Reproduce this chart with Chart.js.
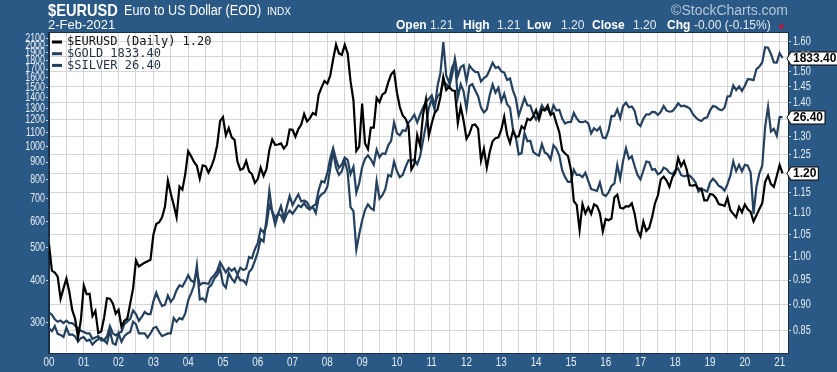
<!DOCTYPE html>
<html>
<head>
<meta charset="utf-8">
<script src="https://cdn.jsdelivr.net/npm/chart.js@4.4.1/dist/chart.umd.min.js"></script>
<style>
  html, body { margin: 0; padding: 0; background: #2b5985; overflow: hidden; }
  #wrap { width: 837px; height: 372px; }
</style>
</head>
<body>
<div id="wrap"><canvas id="eurChart" width="837" height="372"></canvas></div>
<script>
// monthly readings, first value = Jan 2000, last = 2-Feb-2021
const startYear = 2000;

const eurusd = [
  1.027, 0.970, 0.966, 0.957, 0.912, 0.933, 0.953, 0.926, 0.890, 0.873, 0.838, 0.871,
  0.939, 0.921, 0.922, 0.878, 0.888, 0.846, 0.849, 0.875, 0.913, 0.912, 0.903, 0.883,
  0.890, 0.858, 0.869, 0.873, 0.902, 0.933, 0.992, 0.979, 0.983, 0.987, 0.990, 0.993,
  1.049, 1.074, 1.078, 1.090, 1.116, 1.181, 1.148, 1.120, 1.090, 1.166, 1.158, 1.198,
  1.259, 1.246, 1.230, 1.220, 1.186, 1.221, 1.219, 1.202, 1.218, 1.240, 1.276, 1.345,
  1.357, 1.304, 1.325, 1.298, 1.291, 1.231, 1.209, 1.213, 1.233, 1.205, 1.198, 1.175,
  1.185, 1.215, 1.193, 1.211, 1.263, 1.292, 1.277, 1.278, 1.281, 1.267, 1.277, 1.321,
  1.320, 1.300, 1.322, 1.335, 1.366, 1.344, 1.354, 1.369, 1.364, 1.425, 1.448, 1.468,
  1.460, 1.486, 1.540, 1.590, 1.560, 1.555, 1.590, 1.560, 1.468, 1.408, 1.260, 1.272,
  1.398, 1.281, 1.265, 1.326, 1.326, 1.415, 1.402, 1.426, 1.432, 1.464, 1.490, 1.500,
  1.432, 1.387, 1.362, 1.352, 1.330, 1.210, 1.224, 1.305, 1.275, 1.364, 1.410, 1.303,
  1.338, 1.369, 1.380, 1.418, 1.481, 1.440, 1.450, 1.439, 1.437, 1.339, 1.388, 1.346,
  1.294, 1.308, 1.333, 1.335, 1.323, 1.234, 1.266, 1.215, 1.257, 1.287, 1.296, 1.298,
  1.320, 1.358, 1.306, 1.282, 1.316, 1.299, 1.301, 1.330, 1.322, 1.352, 1.348, 1.359,
  1.378, 1.350, 1.380, 1.377, 1.392, 1.364, 1.369, 1.339, 1.313, 1.262, 1.253, 1.246,
  1.210, 1.129, 1.120, 1.060, 1.122, 1.099, 1.114, 1.098, 1.121, 1.117, 1.100, 1.057,
  1.086, 1.083, 1.087, 1.138, 1.145, 1.113, 1.111, 1.117, 1.116, 1.124, 1.098, 1.059,
  1.045, 1.080, 1.058, 1.065, 1.090, 1.124, 1.143, 1.184, 1.191, 1.181, 1.165, 1.190,
  1.201, 1.241, 1.219, 1.232, 1.208, 1.169, 1.168, 1.170, 1.160, 1.161, 1.131, 1.131,
  1.147, 1.145, 1.137, 1.122, 1.120, 1.117, 1.137, 1.107, 1.098, 1.090, 1.115, 1.102,
  1.121, 1.109, 1.103, 1.080, 1.095, 1.110, 1.124, 1.178, 1.194, 1.172, 1.165, 1.193,
  1.222, 1.200
];

const gold = [
  289, 283, 293, 278, 276, 272, 290, 276, 277, 273, 264, 270,
  272, 265, 267, 258, 264, 268, 270, 266, 273, 293, 279, 275,
  279, 282, 297, 302, 308, 326, 318, 304, 312, 323, 318, 318,
  347, 368, 350, 336, 339, 361, 346, 355, 375, 387, 384, 398,
  415, 400, 396, 425, 388, 394, 393, 391, 407, 415, 428, 453,
  438, 423, 436, 428, 435, 417, 437, 430, 434, 470, 466, 496,
  517, 569, 556, 582, 670, 643, 613, 632, 624, 599, 629, 646,
  632, 650, 669, 662, 680, 659, 650, 666, 673, 742, 790, 783,
  834, 923, 990, 917, 865, 885, 928, 914, 829, 872, 730, 780,
  869, 920, 943, 917, 884, 979, 930, 955, 951, 1009, 1040, 1180,
  1097, 1080, 1118, 1113, 1180, 1207, 1245, 1181, 1246, 1307, 1357, 1387,
  1421, 1333, 1411, 1439, 1556, 1536, 1500, 1628, 1826, 1620, 1722, 1746,
  1565, 1744, 1697, 1668, 1664, 1562, 1598, 1622, 1692, 1776, 1714, 1726,
  1675, 1660, 1578, 1595, 1470, 1393, 1234, 1313, 1395, 1327, 1324, 1250,
  1204, 1251, 1326, 1284, 1296, 1246, 1327, 1281, 1287, 1212, 1172, 1183,
  1184, 1260, 1213, 1184, 1182, 1190, 1172, 1095, 1134, 1115, 1142, 1065,
  1060, 1117, 1234, 1232, 1290, 1215, 1320, 1351, 1309, 1316, 1277, 1172,
  1151, 1210, 1248, 1246, 1268, 1266, 1242, 1269, 1321, 1279, 1270, 1275,
  1305, 1345, 1318, 1323, 1313, 1298, 1253, 1223, 1201, 1192, 1214, 1222,
  1282, 1321, 1313, 1292, 1282, 1305, 1409, 1413, 1520, 1472, 1511, 1464,
  1517, 1587, 1585, 1577, 1700, 1730, 1780, 1975, 1968, 1886, 1779, 1777,
  1895, 1833.40
];

const silver = [
  5.40, 5.30, 5.10, 5.00, 5.05, 4.95, 5.05, 4.95, 4.95, 4.85, 4.75, 4.65,
  4.60, 4.55, 4.55, 4.35, 4.40, 4.45, 4.30, 4.30, 4.20, 4.65, 4.20, 4.15,
  4.55, 4.25, 4.45, 4.55, 4.60, 5.00, 4.90, 4.55, 4.55, 4.55, 4.40, 4.55,
  4.75, 4.80, 4.60, 4.45, 4.50, 4.55, 4.55, 5.15, 5.00, 5.15, 5.10, 5.35,
  5.95, 6.30, 6.70, 7.90, 6.00, 6.05, 5.90, 6.60, 6.75, 7.10, 7.30, 7.70,
  6.80, 6.60, 7.45, 7.10, 6.90, 7.30, 7.00, 7.00, 6.80, 7.50, 7.70, 8.20,
  8.80, 9.80, 9.60, 11.50, 14.50, 12.20, 11.00, 12.00, 12.80, 11.60, 12.70, 13.90,
  12.90, 13.50, 14.10, 13.30, 13.40, 13.20, 12.60, 12.70, 12.10, 13.70, 14.10, 14.30,
  15.00, 17.40, 20.00, 17.50, 16.50, 17.00, 18.50, 16.90, 12.70, 12.30, 9.00, 10.20,
  11.40, 12.40, 13.00, 12.60, 12.40, 15.70, 13.60, 14.00, 14.70, 16.50, 16.30, 18.40,
  17.00, 16.20, 16.50, 17.60, 18.60, 18.50, 18.70, 18.00, 19.20, 21.80, 24.70, 28.40,
  30.60, 28.00, 34.00, 37.80, 48.60, 37.00, 35.00, 39.50, 41.50, 31.00, 34.50, 32.50,
  28.20, 34.00, 34.50, 32.80, 31.30, 28.50, 27.40, 28.10, 31.50, 34.40, 32.20, 33.50,
  30.00, 31.90, 29.30, 28.50, 24.00, 22.40, 19.50, 19.70, 23.20, 21.70, 21.80, 19.90,
  19.50, 19.30, 21.20, 19.80, 19.50, 18.70, 21.00, 20.40, 19.30, 17.10, 16.20, 15.60,
  15.60, 17.20, 16.50, 16.50, 16.20, 16.80, 15.70, 14.70, 14.60, 14.50, 15.50, 14.10,
  13.90, 14.30, 15.10, 15.40, 17.90, 16.00, 18.50, 20.50, 18.80, 19.20, 17.70, 16.50,
  15.90, 17.10, 18.40, 18.30, 17.20, 17.30, 16.60, 16.80, 17.50, 17.30, 16.80, 16.60,
  17.10, 17.40, 16.50, 16.30, 16.40, 16.40, 16.00, 15.50, 14.40, 14.70, 14.60, 14.40,
  15.50, 16.00, 15.60, 15.10, 14.90, 14.50, 15.30, 16.40, 18.40, 17.00, 17.90, 17.00,
  17.90, 17.80, 16.80, 12.00, 15.00, 16.70, 17.80, 24.40, 28.70, 23.50, 24.00, 22.70,
  26.40, 26.40
];

const yearLabels = ["00","01","02","03","04","05","06","07","08","09","10",
                    "11","12","13","14","15","16","17","18","19","20","21"];
const leftTicks = [300,400,500,600,700,800,900,1000,1100,1200,1300,1400,1500,1600,1700,1800,1900,2000,2100];
const rightTicks = [0.85,0.90,0.95,1.00,1.05,1.10,1.15,1.20,1.25,1.30,1.35,1.40,1.45,1.50,1.55,1.60];
const seriesNames = ["$EURUSD (Daily) 1.20", "$GOLD 1833.40", "$SILVER 26.40"];
const quote = [["Open", "1.21"], ["High", "1.21"], ["Low", "1.20"], ["Close", "1.20"], ["Chg", "-0.00 (-0.15%)"]];

const SANS = '"Liberation Sans", Arial, sans-serif';
const NAVY = "#23405f";
const BLUE = "#2b5985";
const AXIS_TEXT = "#e6edf5";

function toPoints(arr) {
  return arr.map((v, i) => ({ x: startYear + i / 12, y: v }));
}

// text squeezed horizontally, to look like the narrow face of the original
function narrowText(ctx, txt, x, y, squeeze, align) {
  ctx.save();
  ctx.translate(x, y);
  ctx.scale(squeeze, 1);
  ctx.textAlign = align || "left";
  ctx.fillText(txt, 0, 0);
  ctx.restore();
}

const frame = {
  id: "frame",
  beforeDraw(chart) {
    const { ctx, chartArea: a } = chart;
    ctx.save();
    ctx.fillStyle = BLUE;
    ctx.fillRect(0, 0, chart.width, chart.height);
    ctx.fillStyle = "#ffffff";
    ctx.fillRect(a.left, a.top, a.right - a.left, a.bottom - a.top);
    ctx.restore();
  },
  afterDraw(chart) {
    const { ctx, chartArea: a, scales } = chart;
    ctx.save();
    ctx.strokeStyle = "#1b2f47";
    ctx.lineWidth = 1;
    ctx.strokeRect(a.left - 0.5, a.top - 0.5, a.right - a.left + 1, a.bottom - a.top + 1);

    // axis labels
    ctx.fillStyle = AXIS_TEXT;
    ctx.font = "12px " + SANS;
    ctx.textBaseline = "middle";
    leftTicks.forEach((v) => narrowText(ctx, String(v), a.left - 4, scales.yL.getPixelForValue(v), 0.74, "right"));
    rightTicks.forEach((v) => narrowText(ctx, v.toFixed(2), a.right + 5, scales.yR.getPixelForValue(v), 0.76, "left"));
    yearLabels.forEach((lab, i) => narrowText(ctx, lab, scales.x.getPixelForValue(startYear + i), a.bottom + 9.5, 0.82, "center"));

    // header
    ctx.textBaseline = "alphabetic";
    ctx.fillStyle = "#ffffff";
    ctx.font = "bold 17px " + SANS;
    narrowText(ctx, "$EURUSD", 48, 16, 0.86, "left");
    ctx.font = "14px " + SANS;
    narrowText(ctx, "Euro to US Dollar (EOD)", 124, 15, 0.9, "left");
    ctx.font = "10px " + SANS;
    ctx.fillText("INDX", 267, 15);
    ctx.font = "13px " + SANS;
    ctx.fillText("2-Feb-2021", 48, 29);

    ctx.fillStyle = "#b5c6d8";
    ctx.font = "14px " + SANS;
    ctx.textAlign = "right";
    ctx.fillText("\u00a9StockCharts.com", 788, 15);
    ctx.textAlign = "left";

    const keyX = [396, 463, 527, 592, 667];
    const valX = [430, 497, 561, 633, 694];
    quote.forEach(([k, v], i) => {
      ctx.fillStyle = "#ffffff";
      ctx.font = "bold 12px " + SANS;
      ctx.fillText(k, keyX[i], 29);
      ctx.fillStyle = "#e4ebf3";
      ctx.font = "12px " + SANS;
      ctx.fillText(v, valX[i], 29);
    });
    ctx.fillStyle = "#c8102e";
    ctx.beginPath();
    ctx.moveTo(778, 25); ctx.lineTo(785, 25); ctx.lineTo(781.5, 29.5); ctx.closePath();
    ctx.fill();

    // legend
    ctx.font = '12px "DejaVu Sans Mono", monospace';
    ctx.textBaseline = "middle";
    chart.data.datasets.forEach((ds, i) => {
      const y = a.top + 9 + i * 11.7;
      ctx.fillStyle = ds.borderColor;
      ctx.fillRect(a.left + 3, y - 1.5, 10, 3);
      ctx.fillStyle = i === 0 ? "#111111" : "#1f2f44";
      ctx.fillText(ds.label, a.left + 18, y);
    });

    // last value tags
    ctx.font = "bold 12px " + SANS;
    chart.data.datasets.forEach((ds) => {
      const last = ds.data[ds.data.length - 1].y;
      const y = Math.round(scales[ds.yAxisID].getPixelForValue(last)) + 0.5;
      const txt = last.toFixed(2);
      const w = ctx.measureText(txt).width + 4;
      const x0 = a.right + 3;
      ctx.beginPath();
      ctx.moveTo(a.right - 1, y);
      ctx.lineTo(x0, y - 6.5);
      ctx.lineTo(x0 + w, y - 6.5);
      ctx.lineTo(x0 + w, y + 6.5);
      ctx.lineTo(x0, y + 6.5);
      ctx.closePath();
      ctx.fillStyle = "#ffffff";
      ctx.fill();
      ctx.strokeStyle = "#000000";
      ctx.lineWidth = 1;
      ctx.stroke();
      ctx.fillStyle = "#000000";
      ctx.textAlign = "left";
      ctx.fillText(txt, x0 + 2, y + 0.5);
    });
    ctx.restore();
  }
};

const lineStyle = { borderWidth: 2.2, pointRadius: 0, tension: 0, fill: false };

new Chart(document.getElementById("eurChart").getContext("2d"), {
  type: "line",
  data: {
    datasets: [
      Object.assign({ label: seriesNames[0], data: toPoints(eurusd), yAxisID: "yR", borderColor: "#000000" }, lineStyle),
      Object.assign({ label: seriesNames[1], data: toPoints(gold), yAxisID: "yL", borderColor: NAVY }, lineStyle),
      Object.assign({ label: seriesNames[2], data: toPoints(silver), yAxisID: "yS", borderColor: NAVY }, lineStyle)
    ]
  },
  options: {
    responsive: false,
    animation: false,
    layout: { padding: { top: 33, left: 0, right: 0, bottom: 0 } },
    plugins: { legend: { display: false }, tooltip: { enabled: false } },
    scales: {
      x: {
        type: "linear",
        min: 2000,
        max: 2021.24,
        afterBuildTicks: (s) => {
          const t = [];
          yearLabels.forEach((lab, i) => {
            t.push({ value: startYear + i });
            if (startYear + i + 0.5 < 2021.24) t.push({ value: startYear + i + 0.5 });
          });
          s.ticks = t;
        },
        afterFit: (s) => { s.height = 19; },
        ticks: { display: false, autoSkip: false, maxRotation: 0 },
        grid: { color: "#d6d6d6", drawTicks: false },
        border: { color: "#1b2f47" }
      },
      yL: {
        type: "logarithmic",
        position: "left",
        min: 243.8,
        max: 2176,
        afterBuildTicks: (s) => { s.ticks = leftTicks.map((v) => ({ value: v })); },
        afterFit: (s) => { s.width = 49; },
        ticks: { display: false, autoSkip: false },
        grid: { drawOnChartArea: false, drawTicks: true, tickLength: 3, tickColor: "#c9d6e3" },
        border: { color: "#1b2f47" }
      },
      yR: {
        type: "logarithmic",
        position: "right",
        min: 0.812,
        max: 1.631,
        afterBuildTicks: (s) => { s.ticks = rightTicks.map((v) => ({ value: v })); },
        afterFit: (s) => { s.width = 49; },
        ticks: { display: false, autoSkip: false },
        grid: { color: "#d6d6d6", drawTicks: true, tickLength: 3, tickColor: "#c9d6e3" },
        border: { color: "#1b2f47" }
      },
      yS: {
        type: "logarithmic",
        display: false,
        min: 3.88,
        max: 52.3
      }
    }
  },
  plugins: [frame]
});
</script>
</body>
</html>
